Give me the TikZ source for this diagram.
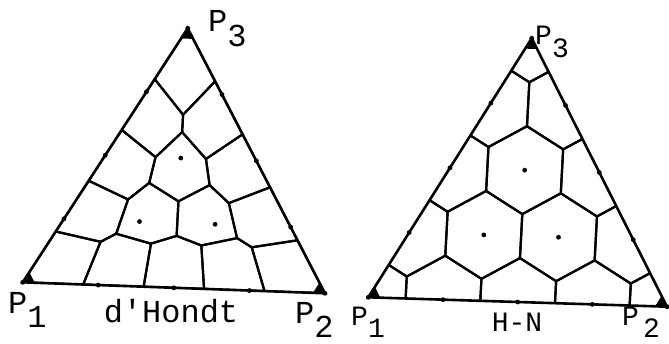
\documentclass[tikz,border=0pt]{standalone}
\usepackage{fontspec}
\newfontfamily\typefont{Liberation Mono}
\usepackage{tikz}
\tikzstyle{cell} = [line width=2.2pt, line join=round]
\tikzstyle{side} = [line width=2.6pt, line join=miter]
\tikzstyle{vlabel} = [inner sep=0pt, anchor=base west, font=\typefont\fontsize{32}{32}\selectfont]
\tikzstyle{vlabelsmall} = [inner sep=0pt, anchor=base west, font=\typefont\fontsize{28}{28}\selectfont]
\tikzstyle{method} = [inner sep=0pt, anchor=base]
\newcommand{\vtx}[1]{P\raisebox{-0.45em}{#1}}

\begin{document}
\begin{tikzpicture}[x=1pt, y=1pt]
\useasboundingbox (0,0) rectangle (669,343);

% corners of both triangles
\coordinate (L1) at (22.7,60.7);
\coordinate (L2) at (325,49.7);
\coordinate (L3) at (187.7,314.7);
\coordinate (R1) at (368.3,45.7);
\coordinate (R2) at (667,36.3);
\coordinate (R3) at (531.7,304.7);

% d'Hondt cells
\begin{scope}
\clip (L1) -- (L2) -- (L3) -- cycle;
\foreach \a in {0,...,4} {
  \pgfmathtruncatemacro{\m}{4-\a}
  \foreach \b in {0,...,\m} {
    \pgfmathtruncatemacro{\c}{4-\a-\b}
    \draw[cell] (barycentric cs:L1=\a+1,L2=\b,L3=\c) -- (barycentric cs:L1=\a+1,L2=\b+1,L3=\c)
      -- (barycentric cs:L1=\a,L2=\b+1,L3=\c) -- (barycentric cs:L1=\a,L2=\b+1,L3=\c+1)
      -- (barycentric cs:L1=\a,L2=\b,L3=\c+1) -- (barycentric cs:L1=\a+1,L2=\b,L3=\c+1) -- cycle;
  }
}
\end{scope}

% Hare-Niemeyer cells
\begin{scope}
\clip (R1) -- (R2) -- (R3) -- cycle;
\foreach \a in {0,...,4} {
  \pgfmathtruncatemacro{\m}{4-\a}
  \foreach \b in {0,...,\m} {
    \pgfmathtruncatemacro{\c}{4-\a-\b}
    \draw[cell] (barycentric cs:R1=3*\a+2,R2=3*\b-1,R3=3*\c-1) -- (barycentric cs:R1=3*\a+1,R2=3*\b+1,R3=3*\c-2)
      -- (barycentric cs:R1=3*\a-1,R2=3*\b+2,R3=3*\c-1) -- (barycentric cs:R1=3*\a-2,R2=3*\b+1,R3=3*\c+1)
      -- (barycentric cs:R1=3*\a-1,R2=3*\b-1,R3=3*\c+2) -- (barycentric cs:R1=3*\a+1,R2=3*\b-2,R3=3*\c+1) -- cycle;
  }
}
\end{scope}

% sides, seat points and corner blobs
\foreach \T in {L,R} {
  \draw[side] (\T1) -- (\T2) -- (\T3) -- cycle;
  \foreach \a in {0,...,4} {
    \pgfmathtruncatemacro{\m}{4-\a}
    \foreach \b in {0,...,\m} {
      \pgfmathtruncatemacro{\c}{4-\a-\b}
      \fill (barycentric cs:\T1=\a,\T2=\b,\T3=\c) circle (2.4pt);
    }
  }
  \fill (\T1) -- (barycentric cs:\T1=0.96,\T2=0.04) -- (barycentric cs:\T1=0.96,\T3=0.04) -- cycle;
  \fill (\T2) -- (barycentric cs:\T2=0.96,\T1=0.04) -- (barycentric cs:\T2=0.96,\T3=0.04) -- cycle;
  \fill (\T3) -- (barycentric cs:\T3=0.96,\T1=0.04) -- (barycentric cs:\T3=0.96,\T2=0.04) -- cycle;
}

% labels
\node (l1) [vlabel] at (8,30) {\vtx{1}};
\node (l2) [vlabel] at (295,20) {\vtx{2}};
\node (l3) [vlabel] at (208,311) {\vtx{3}};
\node (dh) [method, font=\typefont\fontsize{32}{32}\selectfont] at (171,21) {d\textquotesingle Hondt};
\node (r1) [vlabelsmall] at (351,18) {\vtx{1}};
\node (r2) [vlabelsmall] at (622,18) {P\hspace{4pt}\raisebox{-0.45em}{2}};
\node (r3) [vlabelsmall] at (535,298) {\vtx{3}};
\node (hn) [method, font=\typefont\fontsize{28}{28}\selectfont] at (517,12) {H-N};

\end{tikzpicture}
\end{document}
